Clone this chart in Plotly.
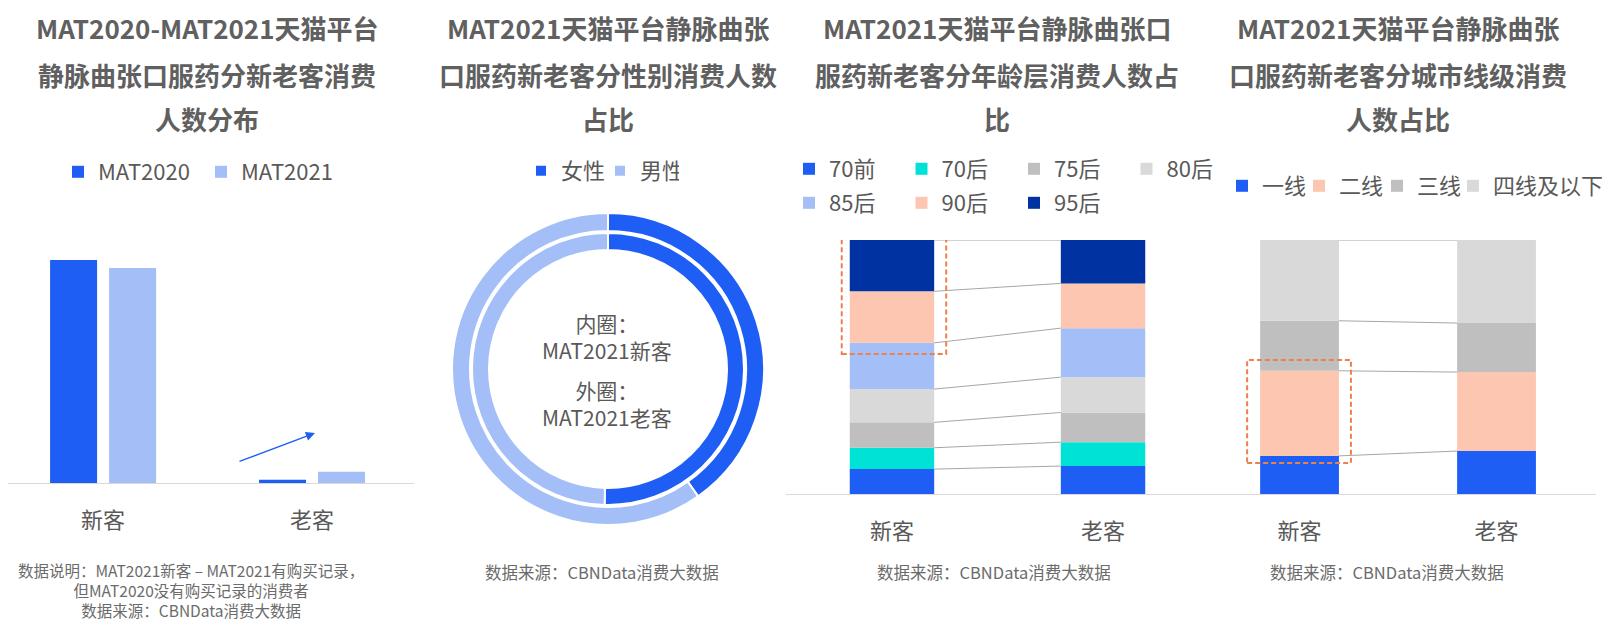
import numpy as np
import plotly.graph_objects as go

# page is rendered with an 8px body margin, so the figure is sized to fit the window
PAGE_W, PAGE_H, OFF = 1610, 620, 8
W, H = PAGE_W - OFF, PAGE_H - OFF
FONT = "Noto Sans CJK SC"
TXT = "#595959"
TITLE_C = "#606060"
SRC = "#6b6b6b"

# ---------------- data ----------------
# Panel 1: consumers by new / old customers (relative bar heights)
p1_categories = ["新客", "老客"]
p1_series = ["MAT2020", "MAT2021"]
p1_mat2020 = [100.0, 1.5]
p1_mat2021 = [96.4, 5.1]

# Panel 2: gender share (%)
p2_labels = ["女性", "男性"]
p2_new = [50.4, 49.6]   # inner ring: MAT2021新客
p2_old = [40.2, 59.8]   # outer ring: MAT2021老客

# Panel 3: age-group share (%)
p3_categories = ["新客", "老客"]
p3_groups = ["70前", "70后", "75后", "80后", "85后", "90后", "95后"]
p3_new = [9.8, 8.4, 10.0, 13.1, 18.2, 20.3, 20.2]
p3_old = [11.0, 9.4, 11.7, 13.9, 19.3, 17.6, 17.1]

# Panel 4: city-tier share (%)
p4_categories = ["新客", "老客"]
p4_tiers = ["一线", "二线", "三线", "四线及以下"]
p4_new = [15.0, 33.5, 19.7, 31.8]
p4_old = [16.9, 31.1, 19.3, 32.7]

titles = [
    ["MAT2020-MAT2021天猫平台", "静脉曲张口服药分新老客消费", "人数分布"],
    ["MAT2021天猫平台静脉曲张", "口服药新老客分性别消费人数", "占比"],
    ["MAT2021天猫平台静脉曲张口", "服药新老客分年龄层消费人数占", "比"],
    ["MAT2021天猫平台静脉曲张", "口服药新老客分城市线级消费", "人数占比"],
]
p1_notes = ["数据说明：MAT2021新客 – MAT2021有购买记录，",
            "但MAT2020没有购买记录的消费者",
            "数据来源：CBNData消费大数据"]
source_text = "数据来源：CBNData消费大数据"
donut_center = [["内圈：", "MAT2021新客"], ["外圈：", "MAT2021老客"]]

# ---------------- styles ----------------
BLUE = "#1E5EF5"
LBLUE = "#A4BEF8"
p1_colors = [BLUE, LBLUE]
p2_colors = [BLUE, LBLUE]
p3_colors = [BLUE, "#00E2D6", "#BFBFBF", "#D9D9D9", LBLUE, "#FDC6B1", "#0033A1"]
p4_colors = [BLUE, "#FDC6B1", "#BFBFBF", "#D9D9D9"]
BOX = "#EC8050"
LINEC = "#A6A6A6"


def px(x):
    return (x - OFF) / W


def py(y):
    return 1 - (y - OFF) / H


fig = go.Figure()

# ---- Panel 1 grouped bars ----
bw1 = 0.225
for name, vals, col, off in zip(p1_series, [p1_mat2020, p1_mat2021], p1_colors, [-0.2536, 0.0287]):
    fig.add_trace(go.Bar(
        x=list(range(len(p1_categories))), y=vals, name=name, marker_color=col,
        width=bw1, offset=off, xaxis="x", yaxis="y", legend="legend",
        marker_line_width=0, hovertemplate="%{y}<extra>" + name + "</extra>"))

# ---- Panel 2 donut rings ----
fig.add_trace(go.Pie(
    labels=p2_labels, values=p2_old, hole=138 / 156, sort=False, direction="clockwise",
    marker=dict(colors=p2_colors, line=dict(color="white", width=2)),
    textinfo="none", showlegend=False, name="MAT2021老客",
    domain=dict(x=[px(452), px(764)], y=[py(525), py(213)])))
fig.add_trace(go.Pie(
    labels=p2_labels, values=p2_new, hole=119 / 136, sort=False, direction="clockwise",
    marker=dict(colors=p2_colors, line=dict(color="white", width=2)),
    textinfo="none", showlegend=True, legend="legend2", name="MAT2021新客",
    domain=dict(x=[px(472), px(744)], y=[py(505), py(233)])))


def stacked(categories, names, new_vals, old_vals, colors, xa, ya, legends, bw):
    data = np.array([new_vals, old_vals])  # shape (2, n)
    cum = np.cumsum(data, axis=1)
    base = cum - data
    xs = list(range(len(categories)))
    for i, name in enumerate(names):
        fig.add_trace(go.Bar(
            x=xs, y=data[:, i], base=base[:, i], name=name, marker_color=colors[i],
            marker_line_width=0, width=bw, xaxis=xa, yaxis=ya, legend=legends[i],
            hovertemplate="%{y}%<extra>" + name + "</extra>"))
    # connector lines between stacked segments
    lx, ly = [], []
    for i in range(len(names)):
        lx += [xs[0] + bw / 2, xs[1] - bw / 2, None]
        ly += [cum[0, i], cum[1, i], None]
    fig.add_trace(go.Scatter(x=lx, y=ly, mode="lines", line=dict(color=LINEC, width=1),
                             showlegend=False, hoverinfo="skip", xaxis=xa, yaxis=ya))
    return cum


p3_leg = ["legend3"] * 4 + ["legend4"] * 3
cum3 = stacked(p3_categories, p3_groups, p3_new, p3_old, p3_colors, "x2", "y2", p3_leg, 0.4)
p4_leg = ["legend5", "legend6", "legend7", "legend8"]
cum4 = stacked(p4_categories, p4_tiers, p4_new, p4_old, p4_colors, "x3", "y3", p4_leg, 0.4)

# ---------------- axes ----------------
axis_common = dict(showgrid=False, zeroline=False, showline=True, linecolor="#D9D9D9",
                   linewidth=1, ticks="", tickfont=dict(size=22, color=TXT, family=FONT),
                   ticklabelstandoff=18, fixedrange=True)
yaxis_common = dict(visible=False, showgrid=False, zeroline=False, fixedrange=True)

fig.update_layout(
    xaxis=dict(domain=[px(8), px(414)], range=[-0.455, 1.488], anchor="y",
               tickvals=[0, 1], ticktext=p1_categories, **axis_common),
    yaxis=dict(domain=[py(483), py(260)], range=[0, 100], anchor="x", **yaxis_common),
    xaxis2=dict(domain=[px(786), px(1190)], range=[-0.502, 1.412], anchor="y2",
                tickvals=[0, 1], ticktext=p3_categories, **axis_common),
    yaxis2=dict(domain=[py(494), py(240)], range=[0, 100], anchor="x2", **yaxis_common),
    xaxis3=dict(domain=[px(1190), px(1596)], range=[-0.556, 1.505], anchor="y3",
                tickvals=[0, 1], ticktext=p4_categories, **axis_common),
    yaxis3=dict(domain=[py(494), py(240)], range=[0, 100], anchor="x3", **yaxis_common),
)

# ---------------- legends ----------------
leg_base = dict(orientation="h", xanchor="left", yanchor="middle", bgcolor="rgba(0,0,0,0)",
                font=dict(size=22, color=TXT, family=FONT), traceorder="normal", borderwidth=0)
leg_fixed = dict(entrywidthmode="pixels", **leg_base)
fig.update_layout(
    legend=dict(x=px(58), y=py(172), entrywidth=98, **leg_fixed),
    legend2=dict(x=px(521), y=py(171), entrywidth=34, **leg_fixed),
    legend3=dict(x=px(789), y=py(169), entrywidth=67.5, **leg_fixed),
    legend4=dict(x=px(789), y=py(203), entrywidth=67.5, **leg_fixed),
    legend5=dict(x=px(1222), y=py(186), **leg_base),
    legend6=dict(x=px(1299), y=py(186), **leg_base),
    legend7=dict(x=px(1377), y=py(186), **leg_base),
    legend8=dict(x=px(1453), y=py(186), **leg_base),
)

# ---------------- annotations ----------------
ann = []
title_x = [207, 608, 997, 1398]
title_y = [28, 74, 118]
for cx, lines in zip(title_x, titles):
    for ty, t in zip(title_y, lines):
        ann.append(dict(x=px(cx), y=py(ty), xref="paper", yref="paper", text=t, showarrow=False,
                        xanchor="center", yanchor="middle",
                        font=dict(size=26, color=TITLE_C, family=FONT, weight="bold")))

ann.append(dict(x=px(191), y=py(590), xref="paper", yref="paper", text="<br>".join(p1_notes),
                showarrow=False, xanchor="center", yanchor="middle", align="center",
                font=dict(size=15.5, color=SRC, family=FONT)))
for sx in [602, 994, 1387]:
    ann.append(dict(x=px(sx), y=py(572), xref="paper", yref="paper", text=source_text, showarrow=False,
                    xanchor="center", yanchor="middle", font=dict(size=16.5, color=SRC, family=FONT)))

for cy, pair in zip([336, 403], donut_center):
    ann.append(dict(x=px(607), y=py(cy), xref="paper", yref="paper", text="<br>".join(pair),
                    showarrow=False, xanchor="center", yanchor="middle", align="center",
                    font=dict(size=21, color=TXT, family=FONT)))

# trend arrow in panel 1
ann.append(dict(x=px(315), y=py(433), xref="paper", yref="paper", ax=-77, ay=29, text="",
                showarrow=True, arrowhead=2, arrowsize=1.4, arrowwidth=1.3, arrowcolor=BLUE))

# ---------------- highlight boxes ----------------
shapes = [
    dict(type="rect", xref="x2", yref="y2", x0=-0.2 - 0.038, x1=0.2 + 0.057,
         y0=cum3[0, 4] - 4.4, y1=cum3[0, -1] + 4.3,
         line=dict(color=BOX, width=2, dash="5px,3px"), fillcolor="rgba(0,0,0,0)", layer="above"),
    dict(type="rect", xref="x3", yref="y3", x0=-0.266, x1=0.261,
         y0=cum4[0, 0] - 2.8, y1=cum4[0, 1] + 4.3,
         line=dict(color=BOX, width=2, dash="5px,3px"), fillcolor="rgba(0,0,0,0)", layer="above"),
]

fig.update_layout(
    width=W, height=H, autosize=False, margin=dict(l=0, r=0, t=0, b=0),
    paper_bgcolor="white", plot_bgcolor="white", barmode="overlay",
    font=dict(family=FONT, color=TXT), annotations=ann, shapes=shapes,
)

fig.write_html("out.html")
